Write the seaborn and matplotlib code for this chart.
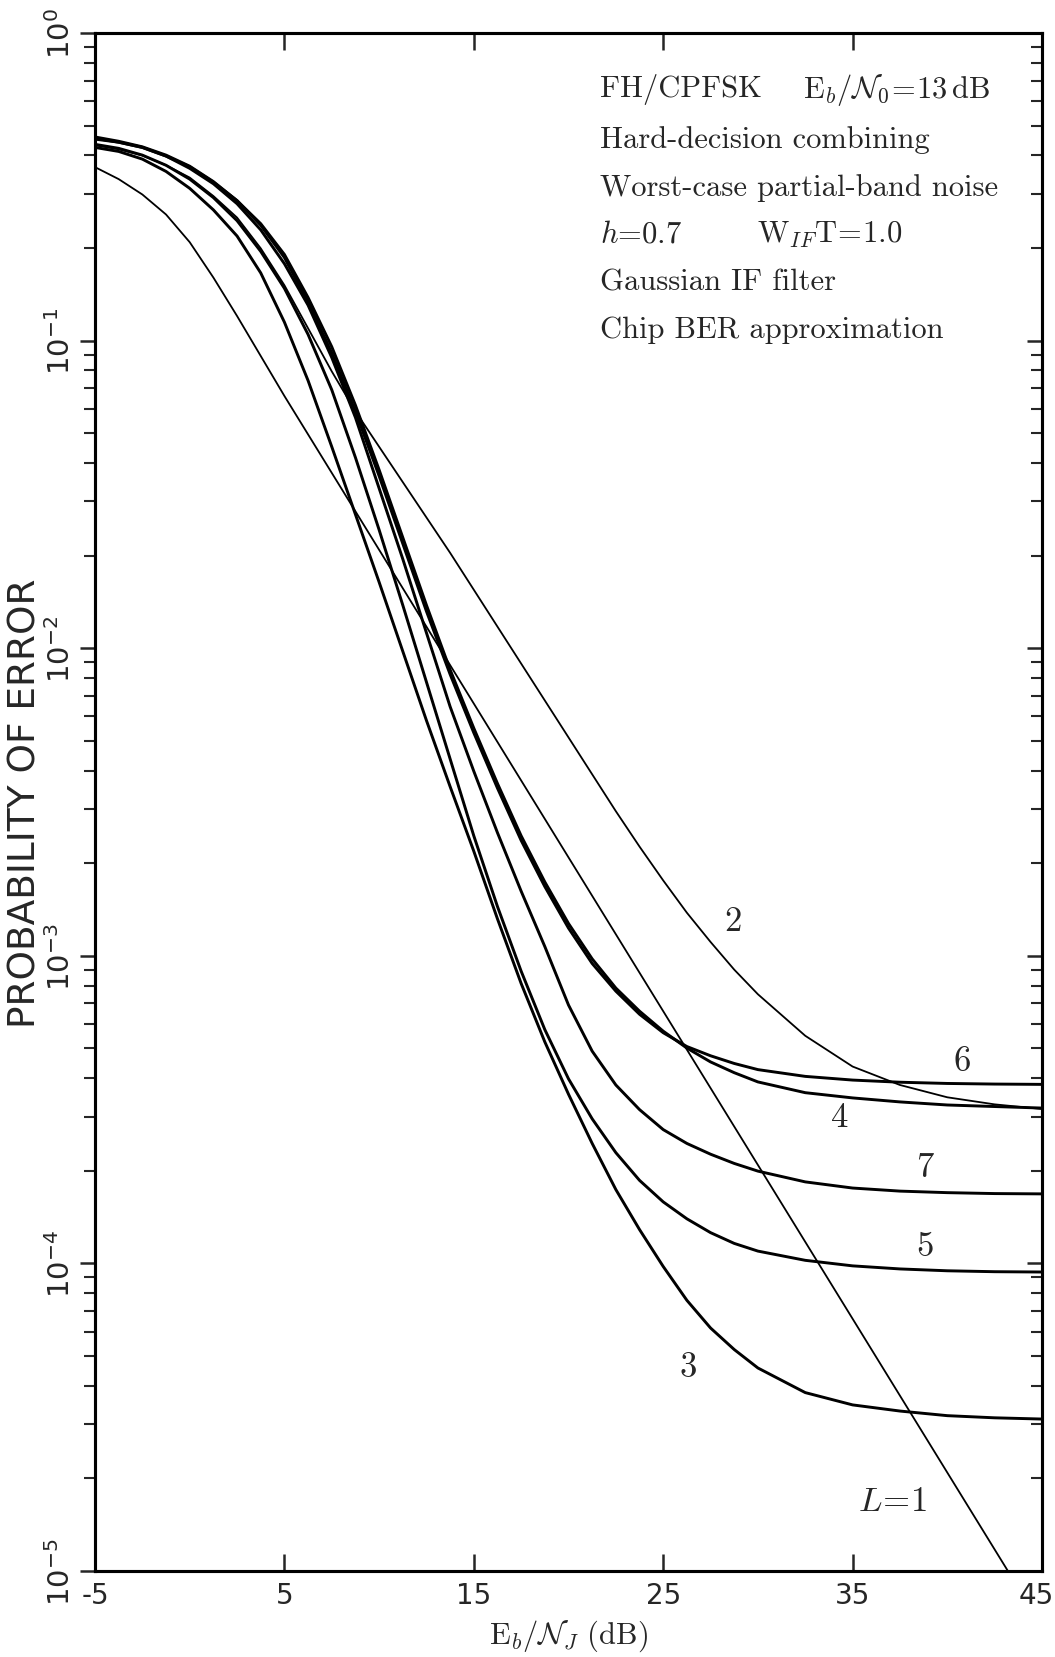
import numpy as np
import matplotlib
matplotlib.use("Agg")
import matplotlib.pyplot as plt
import matplotlib.transforms as mtransforms
from matplotlib import font_manager as fm
import seaborn as sns
from matplotlib.ticker import LogLocator, NullFormatter, FixedLocator

# ---------------- data (log10 of probability of error) -------------
eb_nj_db = [-5, -3.75, -2.5, -1.25, 0, 1.25, 2.5, 3.75, 5, 6.25, 7.5, 8.75, 10,
            11.25, 12.5, 13.75, 15, 16.25, 17.5, 18.75, 20, 21.25, 22.5, 23.75, 25,
            26.25, 27.5, 28.75, 30, 32.5, 35, 37.5, 40, 42.5, 45]

log_pe_L1 = [-0.436, -0.475, -0.525, -0.59, -0.68, -0.795, -0.92, -1.05, -1.18, -1.305, -1.43, -1.555, -1.68,
             -1.805, -1.93, -2.055, -2.18, -2.305, -2.43, -2.555, -2.68, -2.805, -2.93, -3.055, -3.18,
             -3.305, -3.43, -3.555, -3.68, -3.93, -4.18, -4.43, -4.68, -4.93, -5.18]
log_pe_L2 = [-0.365, -0.378, -0.398, -0.43, -0.47, -0.53, -0.60, -0.70, -0.82, -0.96, -1.10, -1.23, -1.345,
             -1.46, -1.575, -1.69, -1.81, -1.93, -2.05, -2.17, -2.29, -2.41, -2.53, -2.645, -2.755,
             -2.86, -2.955, -3.045, -3.125, -3.26, -3.36, -3.42, -3.46, -3.483, -3.498]
log_pe_L3 = [-0.372, -0.385, -0.41, -0.45, -0.505, -0.575, -0.66, -0.78, -0.94, -1.13, -1.345, -1.565, -1.785,
             -2.01, -2.235, -2.45, -2.66, -2.88, -3.09, -3.28, -3.45, -3.61, -3.76, -3.89, -4.01,
             -4.12, -4.21, -4.28, -4.34, -4.42, -4.46, -4.48, -4.495, -4.502, -4.506]
log_pe_L4 = [-0.342, -0.355, -0.372, -0.40, -0.435, -0.485, -0.545, -0.62, -0.72, -0.86, -1.02, -1.21, -1.42,
             -1.64, -1.86, -2.07, -2.26, -2.44, -2.61, -2.76, -2.895, -3.01, -3.105, -3.18, -3.245,
             -3.30, -3.345, -3.38, -3.41, -3.445, -3.462, -3.475, -3.485, -3.49, -3.495]
log_pe_L5 = [-0.362, -0.375, -0.397, -0.43, -0.475, -0.535, -0.61, -0.71, -0.83, -0.98, -1.16, -1.38, -1.615,
             -1.86, -2.11, -2.36, -2.61, -2.84, -3.05, -3.24, -3.40, -3.53, -3.64, -3.73, -3.80,
             -3.855, -3.90, -3.935, -3.96, -3.99, -4.008, -4.018, -4.024, -4.027, -4.028]
log_pe_L6 = [-0.338, -0.352, -0.37, -0.397, -0.433, -0.483, -0.545, -0.625, -0.73, -0.875, -1.04, -1.23, -1.44,
             -1.66, -1.88, -2.085, -2.275, -2.455, -2.625, -2.775, -2.91, -3.025, -3.115, -3.19, -3.25,
             -3.295, -3.325, -3.35, -3.37, -3.392, -3.404, -3.411, -3.415, -3.417, -3.418]
log_pe_L7 = [-0.345, -0.355, -0.372, -0.40, -0.44, -0.49, -0.555, -0.64, -0.75, -0.885, -1.055, -1.25, -1.48,
             -1.71, -1.95, -2.19, -2.40, -2.60, -2.79, -2.97, -3.16, -3.31, -3.42, -3.50, -3.565,
             -3.61, -3.645, -3.675, -3.70, -3.735, -3.755, -3.765, -3.77, -3.773, -3.774]

diversity = ["1", "2", "3", "4", "5", "6", "7"]
curves = [log_pe_L1, log_pe_L2, log_pe_L3, log_pe_L4, log_pe_L5, log_pe_L6, log_pe_L7]
line_widths = [1.3, 1.3, 2.1, 2.1, 2.1, 2.1, 2.1]

# curve label positions (dB, probability)
label_text = ["$L\\!=\\!1$", "2", "3", "4", "5", "6", "7"]
label_x = [37.1, 28.7, 26.3, 34.3, 38.8, 40.8, 38.8]
label_y = [1.69e-5, 1.30e-3, 4.6e-5, 2.99e-4, 1.14e-4, 4.55e-4, 2.06e-4]

x_ticks = [-5, 5, 15, 25, 35, 45]
x_ticklabels = ["-5", "5", "15", "25", "35", "45"]
y_ticks = [1e-5, 1e-4, 1e-3, 1e-2, 1e-1, 1e0]
y_ticklabels = [r"$\mathregular{10^{-5}}$", r"$\mathregular{10^{-4}}$", r"$\mathregular{10^{-3}}$",
                r"$\mathregular{10^{-2}}$", r"$\mathregular{10^{-1}}$", r"$\mathregular{10^{0}}$"]

info_lines = ["FH/CPFSK", "Hard-decision combining", "Worst-case partial-band noise",
              "$h$=0.7", "Gaussian IF filter", "Chip BER approximation"]


def has_font(name):
    try:
        fm.findfont(fm.FontProperties(family=name), fallback_to_default=False)
        return True
    except Exception:
        return False


narrow = has_font("Liberation Sans Narrow")

# ---------------- styling ----------------
sns.set_style("ticks")
if narrow:
    plt.rcParams["font.family"] = ["Liberation Sans Narrow", "DejaVu Sans"]
    xtick_fs, ytick_fs, ylab_fs = 22, 24, 33
else:
    plt.rcParams["font.family"] = ["DejaVu Sans"]
    xtick_fs, ytick_fs, ylab_fs = 20, 21, 27
plt.rcParams["mathtext.fontset"] = "cm"

fig = plt.figure(figsize=(10.55, 16.58), dpi=100)
ax = fig.add_axes([0.09005, 0.05187, 0.89763, 0.92762])

for name, logs, lw in zip(diversity, curves, line_widths):
    sns.lineplot(x=eb_nj_db, y=10 ** np.array(logs), ax=ax, color="black",
                 linewidth=lw, estimator=None, sort=False, legend=False)

ax.set_yscale("log")
ax.set_xlim(-5, 45)
ax.set_ylim(1e-5, 1)

ax.set_xticks(x_ticks)
ax.set_xticklabels(x_ticklabels, fontsize=xtick_fs)
ax.set_yticks(y_ticks)
ax.set_yticklabels(y_ticklabels, fontsize=ytick_fs, rotation=90, va="center", ha="right")
ax.yaxis.set_minor_locator(LogLocator(base=10, subs=np.arange(2, 10), numticks=20))
ax.yaxis.set_minor_formatter(NullFormatter())

ax.tick_params(axis="x", which="major", direction="in", top=True, bottom=True,
               length=12, width=1.8, pad=7)
ax.tick_params(axis="y", which="major", direction="out", left=True, right=False,
               length=11, width=1.8, pad=3)
ax.tick_params(axis="y", which="minor", direction="out", left=True, right=False,
               length=8, width=1.5)

# keep the "45" label inside the figure edge
last = ax.get_xticklabels()[-1]
last.set_horizontalalignment("right")
last.set_transform(last.get_transform() +
                   mtransforms.ScaledTranslation(0.12, 0, fig.dpi_scale_trans))

axr = ax.twinx()
axr.set_yscale("log")
axr.set_ylim(1e-5, 1)
axr.yaxis.set_major_locator(FixedLocator(y_ticks))
axr.yaxis.set_minor_locator(LogLocator(base=10, subs=np.arange(2, 10), numticks=20))
axr.tick_params(axis="y", which="major", direction="in", length=11, width=1.8,
                labelright=False)
axr.tick_params(axis="y", which="minor", direction="in", length=8, width=1.5,
                labelright=False)
axr.grid(False)

for a in (ax, axr):
    for sp in a.spines.values():
        sp.set_linewidth(2.2)
        sp.set_color("black")

ax.set_ylabel("PROBABILITY OF ERROR", fontsize=ylab_fs)
ax.yaxis.set_label_coords(-0.054, 0.5)
ax.set_xlabel(r"$\mathrm{E}_b/\mathcal{N}_J\ \mathrm{(dB)}$", fontsize=22)
ax.xaxis.set_label_coords(0.5, -0.030)

# info block
info_y = [0.9636, 0.9311, 0.8999, 0.8693, 0.8381, 0.8075]
for txt, yy in zip(info_lines, info_y):
    ax.text(0.533, yy, txt, transform=ax.transAxes, fontsize=22, family="cmr10",
            ha="left", va="center")
ax.text(0.7476, info_y[0], r"$\mathrm{E}_b/\mathcal{N}_0\!=\!13\,\mathrm{dB}$",
        transform=ax.transAxes, fontsize=22, ha="left", va="center")
ax.text(0.699, info_y[3], r"$\mathrm{W}_{IF}\mathrm{T}\!=\!1.0$",
        transform=ax.transAxes, fontsize=22, ha="left", va="center")

for t, lx, ly in zip(label_text, label_x, label_y):
    ax.text(lx, ly, t, fontsize=25, family="cmr10", ha="center", va="center")

fig.savefig("out.png", dpi=100)
